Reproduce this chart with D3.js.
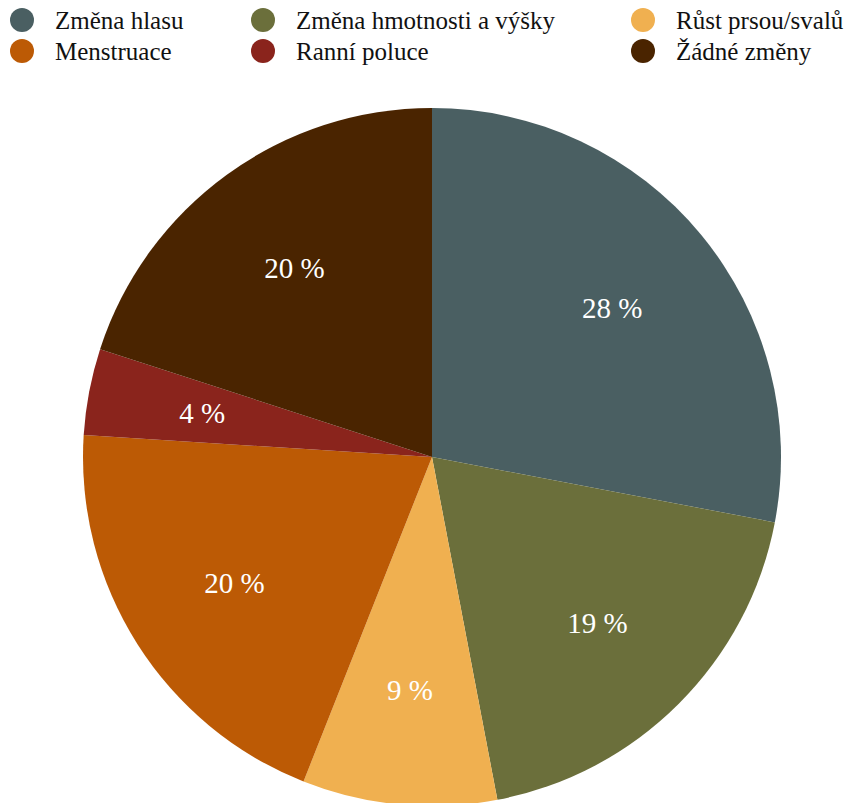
<!DOCTYPE html>
<html>
<head>
<meta charset="utf-8">
<script src="https://cdn.jsdelivr.net/npm/d3@7"></script>
<style>
  body { margin: 0; background: #fff; }
  svg { display: block; }
  text { font-family: "Liberation Serif", "Times New Roman", serif; }
</style>
</head>
<body>
<svg class="chart" width="858" height="803"></svg>
<script>
var categories = ["Změna hlasu", "Změna hmotnosti a výšky", "Růst prsou/svalů", "Menstruace", "Ranní poluce", "Žádné změny"];
var values = [28, 19, 9, 20, 4, 20];
var colors = ["#4a5f62", "#6b6f3b", "#f0b050", "#bc5a05", "#8a241c", "#4a2400"];

var PieChart = (function () {
  return {
    Plot: function () {
      var chart = d3.select("svg.chart"),
          cx = 432, cy = 457, radius = 349;

      var pie = d3.pie().sort(null).value(function (d) { return d; });
      var arc = d3.arc().innerRadius(0).outerRadius(radius);
      var labelArc = d3.arc().innerRadius(234).outerRadius(234);
      var color = d3.scaleOrdinal().domain(categories).range(colors);

      var g = chart.append("g").attr("transform", "translate(" + cx + "," + cy + ")");

      var slices = g.selectAll("g.slice")
        .data(pie(values))
        .enter()
        .append("g").attr("class", "slice");

      slices.append("path")
        .attr("d", arc)
        .attr("fill", function (d, i) { return color(categories[i]); });

      slices.append("text")
        .attr("transform", function (d) { return "translate(" + labelArc.centroid(d) + ")"; })
        .attr("text-anchor", "middle")
        .attr("dy", "0.35em")
        .attr("fill", "#fff")
        .style("font-size", "29px")
        .text(function (d) { return d.data + " %"; });

      // legend, 3 columns
      var colX = [22, 263, 643], rowY = [20, 51];
      var legend = chart.append("g").selectAll("g.item")
        .data(categories)
        .enter()
        .append("g").attr("class", "item")
        .attr("transform", function (d, i) {
          return "translate(" + colX[i % 3] + "," + rowY[Math.floor(i / 3)] + ")";
        });

      legend.append("circle")
        .attr("r", 12)
        .attr("fill", function (d) { return color(d); });

      legend.append("text")
        .attr("x", 33)
        .attr("dy", "0.35em")
        .style("font-size", "25px")
        .attr("fill", "#111")
        .text(function (d) { return d; });
    }
  };
})();

PieChart.Plot();
</script>
</body>
</html>
